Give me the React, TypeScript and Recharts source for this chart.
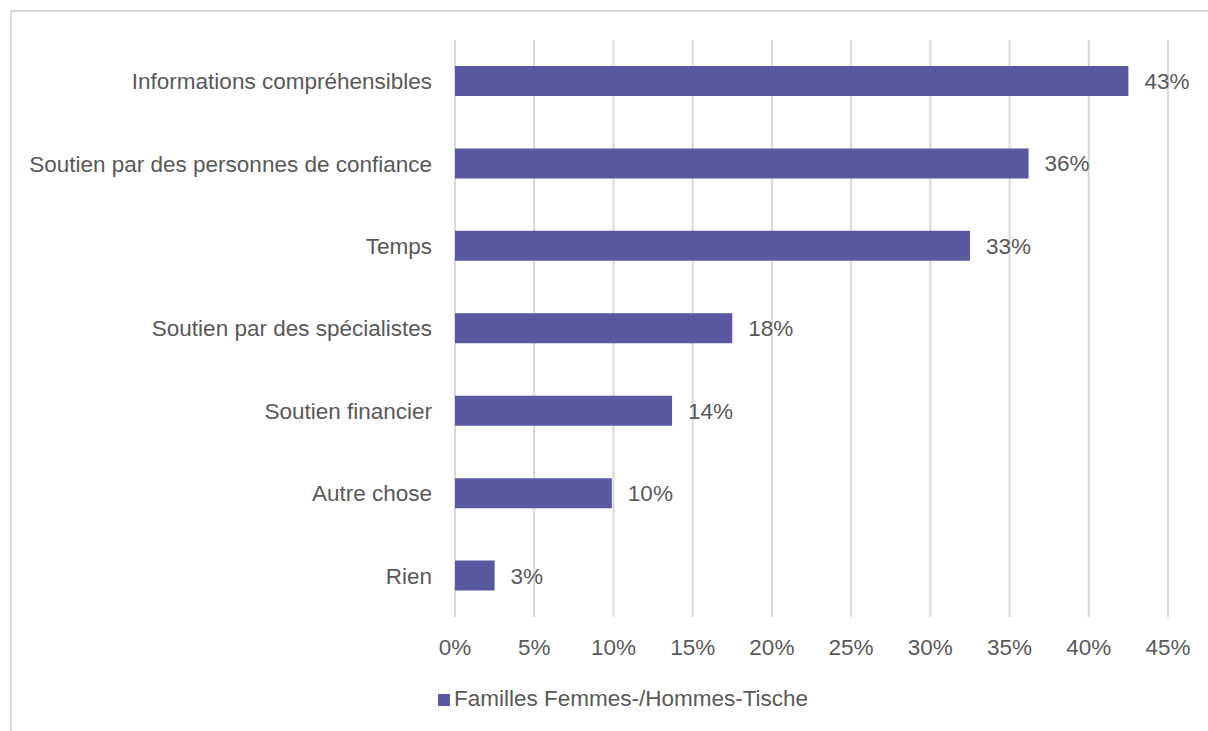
import React from 'react';
import { BarChart, Bar, XAxis, YAxis, CartesianGrid, Legend, LabelList } from 'recharts';

const categories = [
  'Informations compréhensibles',
  'Soutien par des personnes de confiance',
  'Temps',
  'Soutien par des spécialistes',
  'Soutien financier',
  'Autre chose',
  'Rien',
];
const values = [42.5, 36.2, 32.5, 17.5, 13.7, 9.9, 2.5];
const seriesName = 'Familles Femmes-/Hommes-Tische';
const xTicks = [0, 5, 10, 15, 20, 25, 30, 35, 40, 45];

const data = categories.map((name, i) => ({ name, value: values[i] }));

const FONT = '"Liberation Sans", Arial, sans-serif';
const TEXT = '#595959';
const SIZE = 22.5;

const App: React.FC = () => {
  return (
    <div style={{ position: 'absolute', left: 0, top: 0, width: 1208, height: 731, overflow: 'hidden', background: '#fff', fontFamily: FONT }}>
      <div style={{ position: 'absolute', left: 10, top: 10, width: 1230, height: 760, border: '2px solid #d9d9d9' }} />
      <BarChart
        layout="vertical"
        width={1208}
        height={731}
        data={data}
        margin={{ top: 40, right: 40, bottom: 34, left: 0 }}
        barSize={30}
      >
        <CartesianGrid horizontal={false} stroke="#d9d9d9" strokeWidth={2} />
        <XAxis
          type="number"
          domain={[0, 45]}
          ticks={xTicks}
          tickFormatter={(v: number) => `${v}%`}
          axisLine={false}
          tickLine={false}
          tickMargin={16}
          height={50}
          tick={{ fill: TEXT, fontSize: SIZE, fontFamily: FONT }}
        />
        <YAxis
          type="category"
          dataKey="name"
          width={455}
          axisLine={false}
          tickLine={false}
          tickMargin={17}
          tick={{ fill: TEXT, fontSize: SIZE, fontFamily: FONT }}
        />
        <Legend
          iconType="square"
          iconSize={12}
          wrapperStyle={{ top: 686, left: 40, width: 1176, height: 30, fontSize: SIZE, fontFamily: FONT }}
          formatter={(v: string) => <span style={{ color: TEXT }}>{v}</span>}
        />
        <Bar dataKey="value" name={seriesName} fill="#5A58A0" isAnimationActive={false}>
          <LabelList
            dataKey="value"
            position="right"
            offset={16}
            formatter={(v: number) => `${Math.round(v)}%`}
            style={{ fill: TEXT, fontSize: SIZE, fontFamily: FONT }}
          />
        </Bar>
      </BarChart>
    </div>
  );
};

export default App;
